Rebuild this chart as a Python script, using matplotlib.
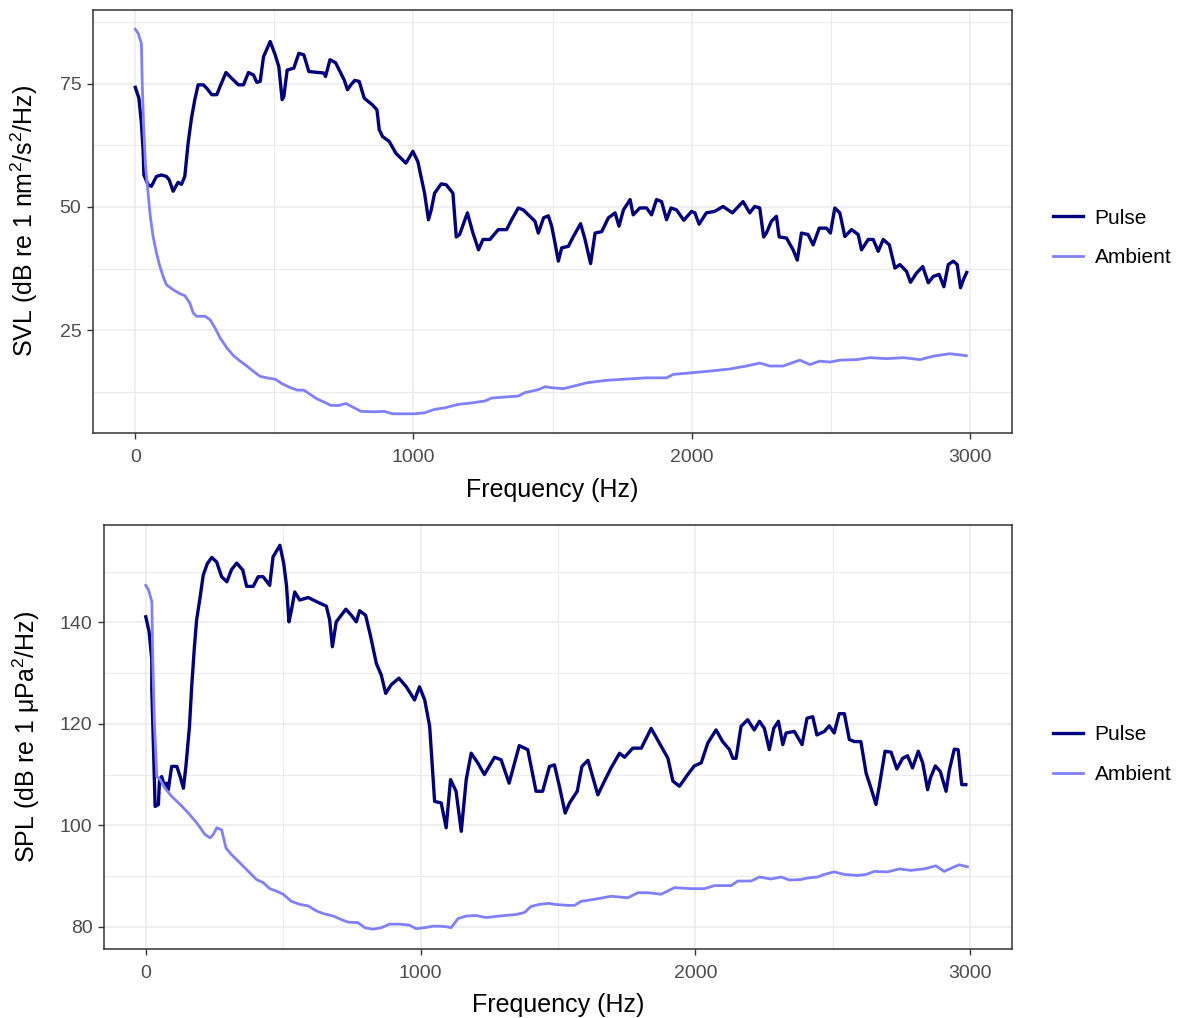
"""Pulse vs ambient spectra: SVL (top) and SPL (bottom)."""

import matplotlib

matplotlib.use("Agg")
import matplotlib.pyplot as plt
import numpy as np

plt.rcParams["font.family"] = ["Liberation Sans", "DejaVu Sans"]
plt.rcParams["mathtext.fontset"] = "custom"
plt.rcParams["mathtext.rm"] = "Liberation Sans"
plt.rcParams["mathtext.it"] = "Liberation Sans:italic"

# ---- data (Hz, dB) ----
svl_pulse_f = [0, 13, 22, 28, 31, 46, 58, 76, 94, 112, 122, 136, 154, 166, 178, 190, 202, 214, 226, 245,
               257, 275, 293, 305, 326, 347, 371, 389, 407, 425, 437, 449, 461, 485, 503, 516, 528, 534,
               546, 570, 588, 606, 624, 678, 684, 700, 720, 751, 763, 775, 789, 805, 823, 853, 869, 877,
               889, 913, 937, 973, 998, 1016, 1040, 1054, 1064, 1076, 1100, 1118, 1142, 1154, 1166, 1194,
               1214, 1234, 1250, 1275, 1305, 1335, 1353, 1377, 1395, 1437, 1449, 1468, 1485, 1497, 1509,
               1521, 1533, 1557, 1575, 1601, 1617, 1637, 1653, 1677, 1701, 1725, 1739, 1755, 1779, 1790,
               1814, 1838, 1856, 1874, 1892, 1910, 1926, 1946, 1972, 2000, 2012, 2027, 2053, 2083, 2113,
               2147, 2185, 2209, 2227, 2245, 2259, 2269, 2287, 2305, 2315, 2341, 2365, 2380, 2395, 2419,
               2437, 2459, 2485, 2499, 2515, 2533, 2551, 2575, 2599, 2611, 2635, 2653, 2671, 2689, 2711,
               2731, 2749, 2773, 2787, 2809, 2831, 2851, 2869, 2890, 2907, 2923, 2941, 2955, 2967, 2977,
               2989]
svl_pulse_db = [74.3, 72.1, 67.0, 61.6, 56.5, 54.5, 54.2, 56.2, 56.5, 56.2, 55.5, 53.2, 55.0, 54.6, 56.2,
                63.0, 68.0, 71.8, 74.8, 74.8, 74.1, 72.8, 72.8, 74.5, 77.3, 76.1, 74.8, 74.8, 77.3, 76.8,
                75.3, 75.5, 80.5, 83.6, 80.9, 78.5, 71.8, 72.4, 77.8, 78.2, 81.2, 80.9, 77.5, 77.2, 76.5,
                79.9, 79.3, 75.8, 73.8, 74.8, 75.7, 75.5, 72.1, 70.7, 69.7, 65.7, 64.3, 63.3, 60.9, 58.9,
                61.3, 59.2, 52.8, 47.4, 49.4, 52.8, 54.7, 54.5, 52.8, 43.9, 44.4, 48.8, 44.7, 41.3, 43.4,
                43.4, 45.4, 45.4, 47.4, 49.8, 49.4, 47.1, 44.7, 47.8, 48.2, 46.1, 42.7, 39.0, 41.7, 42.0,
                44.0, 46.6, 43.4, 38.5, 44.7, 45.0, 47.8, 48.8, 46.1, 49.4, 51.5, 48.4, 49.8, 49.8, 48.4,
                51.5, 51.1, 47.4, 49.8, 49.4, 47.3, 49.1, 48.8, 46.5, 48.8, 49.1, 50.1, 48.8, 51.1, 48.8,
                50.1, 49.8, 43.9, 44.7, 47.1, 48.1, 43.9, 43.7, 41.3, 39.2, 44.7, 44.4, 42.3, 45.7, 45.7,
                44.7, 49.8, 48.8, 44.0, 45.4, 44.4, 41.3, 43.4, 43.4, 41.0, 43.4, 42.3, 37.6, 38.3, 36.9,
                34.7, 36.6, 37.9, 34.6, 35.9, 36.3, 33.8, 38.3, 39.0, 38.3, 33.6, 35.2, 36.7]

svl_amb_f = [0, 10, 22, 25, 30, 37, 46, 54, 64, 76, 88, 100, 112, 136, 160, 178, 196, 208, 220, 251, 269,
             287, 305, 329, 353, 377, 401, 425, 449, 473, 504, 528, 558, 582, 606, 630, 654, 678, 703,
             733, 757, 781, 811, 859, 895, 925, 967, 1004, 1040, 1076, 1112, 1160, 1208, 1257, 1281, 1329,
             1377, 1401, 1449, 1473, 1497, 1539, 1575, 1623, 1695, 1779, 1838, 1910, 1934, 1994, 2053,
             2137, 2197, 2245, 2281, 2329, 2389, 2425, 2461, 2497, 2533, 2593, 2641, 2701, 2761, 2821,
             2869, 2928, 2988]
svl_amb_db = [86.1, 85.3, 83.2, 75.1, 66.3, 58.2, 52.8, 48.1, 44.0, 40.7, 38.0, 35.9, 34.2, 33.2, 32.4,
              32.0, 30.5, 28.5, 27.8, 27.8, 27.1, 25.4, 23.4, 21.4, 19.8, 18.7, 17.7, 16.6, 15.6, 15.3,
              15.0, 14.1, 13.3, 12.8, 12.8, 11.9, 11.0, 10.4, 9.7, 9.7, 10.1, 9.4, 8.5, 8.4, 8.5, 8.0,
              8.0, 8.0, 8.2, 8.9, 9.2, 9.9, 10.2, 10.6, 11.2, 11.4, 11.6, 12.3, 12.9, 13.5, 13.3, 13.1,
              13.6, 14.3, 14.8, 15.1, 15.3, 15.3, 16.0, 16.3, 16.6, 17.1, 17.7, 18.3, 17.7, 17.7, 18.9,
              18.0, 18.7, 18.5, 18.9, 19.0, 19.4, 19.2, 19.4, 19.0, 19.7, 20.2, 19.8]

spl_pulse_f = [0, 12, 22, 22, 28, 34, 46, 50, 58, 68, 76, 82, 94, 113, 125, 137, 146, 159, 167, 177, 185,
               197, 209, 224, 240, 258, 276, 295, 312, 331, 353, 367, 391, 409, 427, 451, 463, 488, 502,
               512, 521, 530, 542, 560, 591, 621, 657, 669, 679, 693, 728, 748, 766, 778, 800, 817, 839,
               857, 873, 893, 921, 948, 978, 996, 1015, 1033, 1051, 1075, 1093, 1109, 1129, 1148, 1166,
               1184, 1208, 1232, 1269, 1293, 1322, 1359, 1390, 1420, 1444, 1469, 1487, 1505, 1526, 1542,
               1570, 1587, 1609, 1645, 1669, 1693, 1724, 1742, 1772, 1803, 1839, 1869, 1900, 1918, 1942,
               1972, 1996, 2021, 2045, 2075, 2099, 2124, 2136, 2148, 2166, 2190, 2214, 2233, 2251, 2269,
               2285, 2302, 2318, 2330, 2360, 2388, 2406, 2427, 2442, 2469, 2487, 2505, 2523, 2542, 2560,
               2578, 2602, 2621, 2639, 2657, 2669, 2690, 2712, 2733, 2754, 2772, 2790, 2811, 2827, 2845,
               2855, 2873, 2891, 2912, 2924, 2942, 2956, 2969, 2984]
spl_pulse_db = [141.1, 138.2, 132.6, 126.7, 114.9, 103.7, 104.1, 109.0, 109.6, 107.7, 108.3, 107.0, 111.6,
                111.6, 109.6, 107.3, 111.6, 119.5, 127.3, 135.2, 140.5, 144.7, 149.3, 151.6, 152.8, 151.9,
                149.0, 148.0, 150.4, 151.7, 150.3, 147.1, 147.1, 149.0, 149.0, 147.3, 152.9, 155.2, 151.6,
                147.3, 140.1, 142.4, 146.0, 144.4, 144.9, 144.1, 143.2, 140.5, 135.2, 140.1, 142.6, 141.4,
                140.1, 142.3, 141.4, 137.5, 131.9, 129.6, 126.0, 127.7, 129.0, 127.3, 124.7, 127.3, 124.7,
                119.5, 104.7, 104.4, 99.5, 109.0, 106.7, 98.8, 109.0, 114.2, 112.3, 110.0, 113.4, 112.9,
                108.3, 115.7, 114.9, 106.7, 106.7, 111.6, 111.9, 107.7, 102.4, 104.4, 106.7, 111.6, 112.8,
                106.0, 108.7, 111.3, 114.2, 113.4, 115.2, 115.2, 119.1, 116.2, 113.2, 108.7, 107.7, 110.0,
                111.7, 112.3, 116.2, 118.8, 116.5, 114.9, 113.2, 113.2, 119.5, 120.8, 118.8, 120.5, 119.1,
                114.9, 119.1, 120.5, 115.9, 118.2, 118.5, 115.9, 121.1, 121.4, 117.8, 118.5, 119.6, 118.2,
                122.0, 122.0, 116.9, 116.5, 116.5, 110.3, 107.3, 104.1, 107.7, 114.6, 114.4, 111.1, 113.2,
                113.7, 111.3, 114.6, 112.3, 107.0, 109.3, 111.7, 110.6, 106.7, 110.9, 115.0, 114.9, 108.0,
                108.0]

spl_amb_f = [0, 10, 22, 25, 31, 40, 52, 70, 94, 125, 155, 185, 215, 234, 246, 258, 276, 292, 312, 331, 355,
             379, 403, 427, 451, 476, 500, 530, 560, 591, 621, 645, 682, 712, 736, 772, 797, 827, 857, 887,
             924, 960, 984, 1015, 1045, 1069, 1093, 1111, 1136, 1166, 1202, 1239, 1269, 1305, 1348, 1378,
             1402, 1432, 1468, 1487, 1536, 1560, 1584, 1633, 1693, 1754, 1791, 1827, 1875, 1924, 1984,
             2033, 2069, 2130, 2154, 2203, 2233, 2275, 2312, 2342, 2384, 2408, 2445, 2469, 2505, 2542,
             2590, 2621, 2651, 2699, 2742, 2784, 2833, 2875, 2905, 2942, 2960, 2990]
spl_amb_db = [147.3, 146.4, 144.1, 133.9, 120.8, 109.6, 109.0, 107.3, 105.7, 104.1, 102.4, 100.5, 98.2,
              97.5, 98.2, 99.5, 99.1, 95.5, 94.2, 93.2, 91.9, 90.6, 89.3, 88.7, 87.5, 87.0, 86.4, 85.0,
              84.4, 84.1, 83.1, 82.6, 82.1, 81.4, 80.9, 80.8, 79.8, 79.5, 79.8, 80.5, 80.5, 80.3, 79.6,
              79.8, 80.1, 80.1, 80.0, 79.8, 81.6, 82.1, 82.2, 81.8, 82.0, 82.2, 82.4, 82.8, 84.0, 84.4,
              84.6, 84.4, 84.2, 84.2, 85.0, 85.4, 86.0, 85.7, 86.7, 86.7, 86.4, 87.7, 87.5, 87.5, 88.1,
              88.1, 89.0, 89.0, 89.8, 89.4, 89.8, 89.2, 89.3, 89.6, 89.8, 90.3, 90.8, 90.3, 90.1, 90.3,
              90.9, 90.8, 91.4, 91.1, 91.4, 92.0, 90.9, 91.8, 92.2, 91.8]

series_labels = ["Pulse", "Ambient"]
svl_label = "SVL (dB re 1 nm$^{2}$/s$^{2}$/Hz)"
spl_label = "SPL (dB re 1 \u03bcPa$^{2}$/Hz)"
x_label = "Frequency (Hz)"

PULSE_C = "#000080"
AMB_C = "#8080ff"
GRID_C = "#ebebeb"
FRAME_C = "#333333"


def style_panel(ax, ylim, yticks, yminor):
    ax.set_xlim(-152, 3152)
    ax.set_ylim(*ylim)
    ax.set_xticks([0, 1000, 2000, 3000])
    ax.set_xticks([500, 1500, 2500], minor=True)
    ax.set_yticks(yticks)
    ax.set_yticks(yminor, minor=True)
    ax.grid(True, which="major", color=GRID_C, lw=1.1, zorder=0)
    ax.grid(True, which="minor", color=GRID_C, lw=0.8, zorder=0)
    ax.set_axisbelow(True)
    for sp in ax.spines.values():
        sp.set_color(FRAME_C)
        sp.set_linewidth(1.1)
    ax.tick_params(which="major", length=4.3, width=1.0, color=FRAME_C, labelcolor="#4d4d4d",
                   labelsize=14)
    ax.tick_params(axis="x", which="major", pad=7)
    ax.tick_params(axis="y", which="major", pad=4)
    ax.tick_params(which="minor", length=0)
    ax.set_xlabel(x_label, fontsize=18)


def add_legend(ax, anchor):
    ax.legend(loc="center left", bbox_to_anchor=anchor, frameon=False, fontsize=15,
              handlelength=1.45, handletextpad=0.55, labelspacing=1.0, borderpad=0,
              borderaxespad=0)


fig = plt.figure(figsize=(11.82, 10.18), dpi=100)

ax1 = fig.add_axes([0.07868, 0.57466, 0.77750, 0.41552])
ax1.plot(svl_pulse_f, svl_pulse_db, color=PULSE_C, lw=2.4, label=series_labels[0], zorder=3)
ax1.plot(svl_amb_f, svl_amb_db, color=AMB_C, lw=2.0, label=series_labels[1], zorder=4)
style_panel(ax1, (4.1, 90.0), [25, 50, 75], [12.5, 37.5, 62.5, 87.5])
ax1.set_ylabel(svl_label, fontsize=18)
ax1.yaxis.set_label_coords(-0.0577, 0.5)
ax1.xaxis.set_label_coords(0.5, -0.107)
add_legend(ax1, (1.0446, 0.461))

ax2 = fig.add_axes([0.08799, 0.06778, 0.76819, 0.41650])
ax2.plot(spl_pulse_f, spl_pulse_db, color=PULSE_C, lw=2.4, label=series_labels[0], zorder=3)
ax2.plot(spl_amb_f, spl_amb_db, color=AMB_C, lw=2.0, label=series_labels[1], zorder=4)
style_panel(ax2, (75.6, 159.2), [80, 100, 120, 140], [90, 110, 130, 150])
ax2.set_ylabel(spl_label, fontsize=18)
ax2.yaxis.set_label_coords(-0.0683, 0.5)
ax2.xaxis.set_label_coords(0.5, -0.104)
add_legend(ax2, (1.0452, 0.459))

fig.savefig("out.png", dpi=100)
plt.close(fig)
